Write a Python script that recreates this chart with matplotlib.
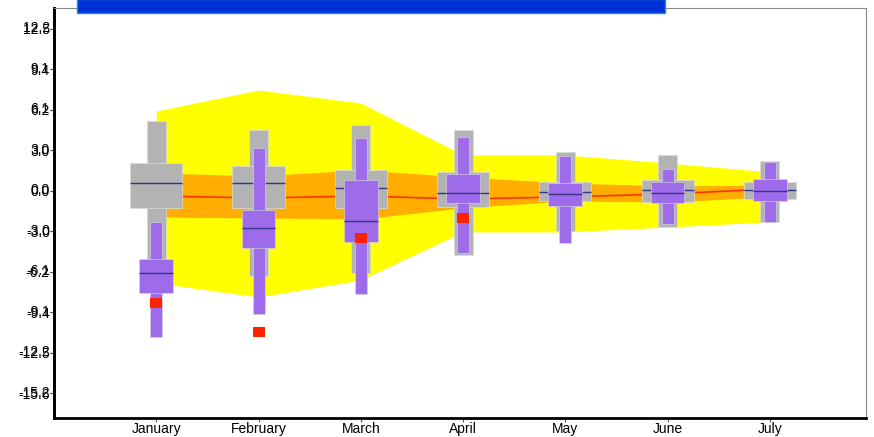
import matplotlib
matplotlib.use("Agg")
import matplotlib.pyplot as plt
from matplotlib.patches import Rectangle
from matplotlib.transforms import ScaledTranslation
import numpy as np

months = ["January", "February", "March", "April", "May", "June", "July"]

# wide gray box plots
gray_top = [5.40, 4.71, 5.09, 4.71, 3.01, 2.78, 2.31]
gray_q3 = [2.16, 1.93, 1.62, 1.47, 0.69, 0.85, 0.69]
gray_med = [0.62, 0.62, 0.23, -0.15, -0.08, 0.08, 0.08]
gray_q1 = [-1.31, -1.31, -1.31, -1.23, -0.77, -0.85, -0.62]
gray_bot = [-5.48, -6.56, -6.33, -4.94, -3.09, -2.78, -2.39]

# narrow purple box plots
purple_top = [-2.39, 3.32, 4.09, 4.17, 2.70, 1.70, 2.24]
purple_q3 = [-5.25, -1.47, 0.85, 1.31, 0.62, 0.69, 0.93]
purple_med = [-6.33, -2.85, -2.31, -0.15, -0.23, -0.15, 0.0]
purple_q1 = [-7.87, -4.40, -3.94, -0.93, -1.16, -0.93, -0.77]
purple_bot = [-11.27, -9.49, -7.95, -4.78, -4.01, -2.55, -2.39]
outlier_month = [0, 1, 2, 3]
outlier_val = [-8.64, -10.88, -3.63, -2.08]

# bands and line
yellow_hi = [6.17, 7.79, 6.79, 2.78, 2.78, 2.16, 1.47]
yellow_lo = [-7.10, -8.18, -6.87, -3.16, -3.16, -2.78, -2.39]
orange_hi = [1.39, 1.16, 1.62, 1.08, 0.62, 0.39, 0.46]
orange_lo = [-2.01, -2.08, -2.16, -1.31, -0.77, -0.85, -0.46]
red_line = [-0.39, -0.54, -0.39, -0.62, -0.46, -0.23, 0.15]

ytick_pos = [12.5, 9.375, 6.25, 3.125, 0.0, -3.125, -6.25, -9.375, -12.5, -15.625]
ytick_a = ["12.5", "9.4", "6.2", "3.0", "0.0", "-3.0", "-6.2", "-9.4", "-12.5", "-15.6"]
ytick_b = ["12.2", "9.1", "6.1", "3.0", "0.0", "-3.0", "-6.1", "-9.1", "-12.2", "-15.2"]

plt.rcParams['font.family'] = ['Liberation Sans', 'DejaVu Sans']

fig = plt.figure(figsize=(8.74, 4.37), dpi=100)
ax = fig.add_axes([54/874, 1-418/437, 812/874, 410/437])

x = np.arange(1, len(months)+1)

ax.fill_between(x, yellow_lo, yellow_hi, color="#ffff00", lw=0, zorder=1)
ax.fill_between(x, orange_lo, orange_hi, color="#ffad00", lw=0, zorder=2)
ax.plot(x, red_line, color="#ff3300", lw=1.2, zorder=3)

gray = "#b3b3b3"
purple = "#9e6bea"
navy = "#333388"
edge = "#dcdcdc"

gt = np.array(gray_top); gb = np.array(gray_bot)
g3 = np.array(gray_q3); g1 = np.array(gray_q1)
ax.bar(x, gt-gb, bottom=gb, width=0.185, color=gray, edgecolor=edge, lw=0.5, zorder=4)
ax.bar(x, g3-g1, bottom=g1, width=0.51, color=gray, edgecolor=edge, lw=0.5, zorder=4)
ax.hlines(gray_med, x-0.255, x+0.255, color=navy, lw=1.0, zorder=5)

pt = np.array(purple_top); pb = np.array(purple_bot)
p3 = np.array(purple_q3); p1 = np.array(purple_q1)
ax.bar(x, pt-pb, bottom=pb, width=0.117, color=purple, edgecolor=edge, lw=0.4, zorder=6)
ax.bar(x, p3-p1, bottom=p1, width=0.33, color=purple, edgecolor=edge, lw=0.4, zorder=6)
ax.hlines(purple_med, x-0.165, x+0.165, color=navy, lw=1.0, zorder=7)

ox = x[outlier_month]
ov = np.array(outlier_val)
ax.bar(ox, 0.77, bottom=ov-0.385, width=0.117, color="#ff2200", lw=0, zorder=8)

ax.set_xlim(0, 7.94)
ax.set_ylim(-17.52, 14.12)
ax.set_xticks(x, months, fontsize=10)
ax.set_yticks(ytick_pos, ytick_a, fontsize=10)
ax.tick_params(axis="both", length=3, width=0.8, color="#555555", pad=0)

sec = ax.secondary_yaxis("left", functions=(lambda v: v, lambda v: v))
sec.set_yticks(ytick_pos, ytick_b, fontsize=10)
sec.tick_params(length=3, width=0.8, color="#555555", pad=0)
sec.spines["left"].set_linewidth(2)
for lbl in sec.get_yticklabels():
    lbl.set_transform(lbl.get_transform() + ScaledTranslation(0, 1.5/72, fig.dpi_scale_trans))

ax.spines["left"].set_linewidth(2)
ax.spines["bottom"].set_linewidth(2)
ax.spines["top"].set_color("#888888")
ax.spines["right"].set_color("#888888")
ax.spines["top"].set_linewidth(0.8)
ax.spines["right"].set_linewidth(0.8)

# blue title bar cut off at the top
fig.patches.append(Rectangle((77/874, 1-13/437), 588/874, 14/437, transform=fig.transFigure,
                             facecolor="#0030d8", edgecolor="#1a8fd8", lw=1.0, zorder=10))

plt.savefig("out.png", dpi=100)
